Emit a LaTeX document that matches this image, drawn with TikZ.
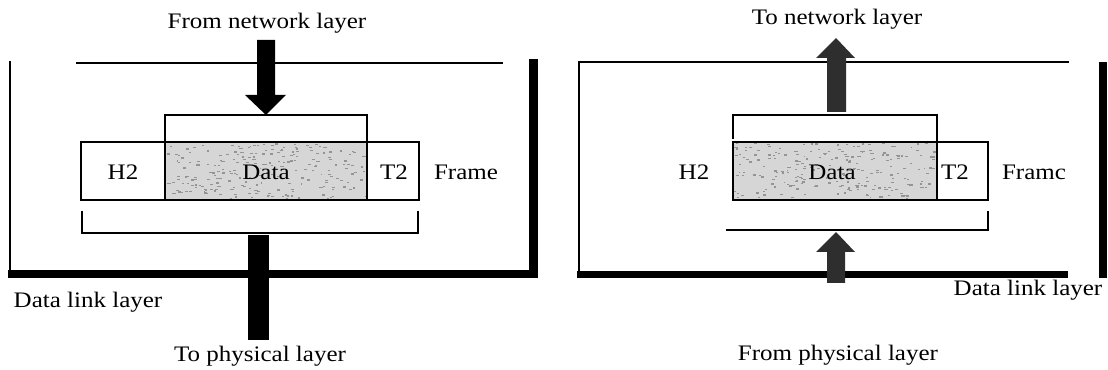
\documentclass[tikz,border=0pt]{standalone}
\usepackage{fontspec}
\setmainfont[FakeStretch=1.13]{Liberation Serif}
\begin{document}
\begin{tikzpicture}[x=0.75pt,y=-0.75pt,
  lbl/.style={font=\fontsize{16.6}{19}\selectfont, inner sep=0pt, anchor=base},
  thinln/.style={line width=1.4pt, line cap=rect},
  datafill/.style={fill=black!16},
  speck/.style={fill=black!42},
  heavy/.style={fill=black},
  darkarrow/.style={fill=black!82}]
\useasboundingbox (0,0) rectangle (1108,370);

% ---------------- left diagram ----------------
\draw[thinln] (10,62) -- (10,272);
\draw[thinln] (77,63) -- (502,63);
\fill[heavy] (8,270) rectangle (538,278);
\fill[heavy] (529,59) rectangle (538,278);

% frame
\fill[datafill] (165,142) rectangle (367,200);
\pgfmathsetseed{7}
\foreach \k in {1,...,230}{
  \pgfmathsetmacro\xx{166+rnd*199}
  \pgfmathsetmacro\yy{143+rnd*55}
  \fill[speck] (\xx,\yy) rectangle ++(1.6+rnd*2,1.2);
}
\draw[thinln] (81,142) rectangle (419,200);
\draw[thinln] (165,142) -- (165,200);
\draw[thinln] (367,142) -- (367,200);
% brackets
\draw[thinln] (165,140) -- (165,115) -- (367,115) -- (367,140);
\draw[thinln] (82,212) -- (82,233) -- (418,233) -- (418,212);
% arrows
\fill[heavy] (257,40) -- (275,40) -- (275,95) -- (286,95) -- (266,115) -- (245,95) -- (257,95) -- cycle;
\fill[heavy] (248,235) rectangle (269,340);

\node[lbl] (h2a) at (123,180) {H2};
\node[lbl] (dataa) at (266,180) {Data};
\node[lbl] (t2a) at (394,180) {T2};
\node[lbl] (framea) at (466,180) {Frame};
\node[lbl] (fromnet) at (267,29) {From network layer};
\node[lbl] (dlla) at (88,308) {Data link layer};
\node[lbl] (tophys) at (260,362) {To physical layer};

% ---------------- right diagram ----------------
\draw[thinln] (579,62) -- (579,273);
\draw[thinln] (579,62) -- (1068,62);
\fill[heavy] (577,271) rectangle (1068,278);
\fill[heavy] (1099,62) rectangle (1107,278);

\fill[datafill] (733,142) rectangle (937,200);
\pgfmathsetseed{11}
\foreach \k in {1,...,230}{
  \pgfmathsetmacro\xx{734+rnd*201}
  \pgfmathsetmacro\yy{143+rnd*55}
  \fill[speck] (\xx,\yy) rectangle ++(1.6+rnd*2,1.2);
}
\draw[thinln] (733,142) rectangle (988,200);
\draw[thinln] (937,142) -- (937,200);
\draw[thinln] (733,138) -- (733,115) -- (937,115) -- (937,140);
\draw[thinln] (727,230) -- (988,230) -- (988,212);

\fill[darkarrow] (827,112) -- (846,112) -- (846,58) -- (855,58) -- (836,38) -- (816,58) -- (827,58) -- cycle;
\fill[darkarrow] (827,283) -- (845,283) -- (845,252) -- (855,252) -- (836,232) -- (816,252) -- (827,252) -- cycle;

\node[lbl] (h2b) at (694,180) {H2};
\node[lbl] (datab) at (832,180) {Data};
\node[lbl] (t2b) at (955,180) {T2};
\node[lbl] (frameb) at (1034,180) {Framc};
\node[lbl] (tonet) at (837,25) {To network layer};
\node[lbl] (dllb) at (1028,296) {Data link layer};
\node[lbl] (fromphys) at (838,361) {From physical layer};
\end{tikzpicture}
\end{document}
